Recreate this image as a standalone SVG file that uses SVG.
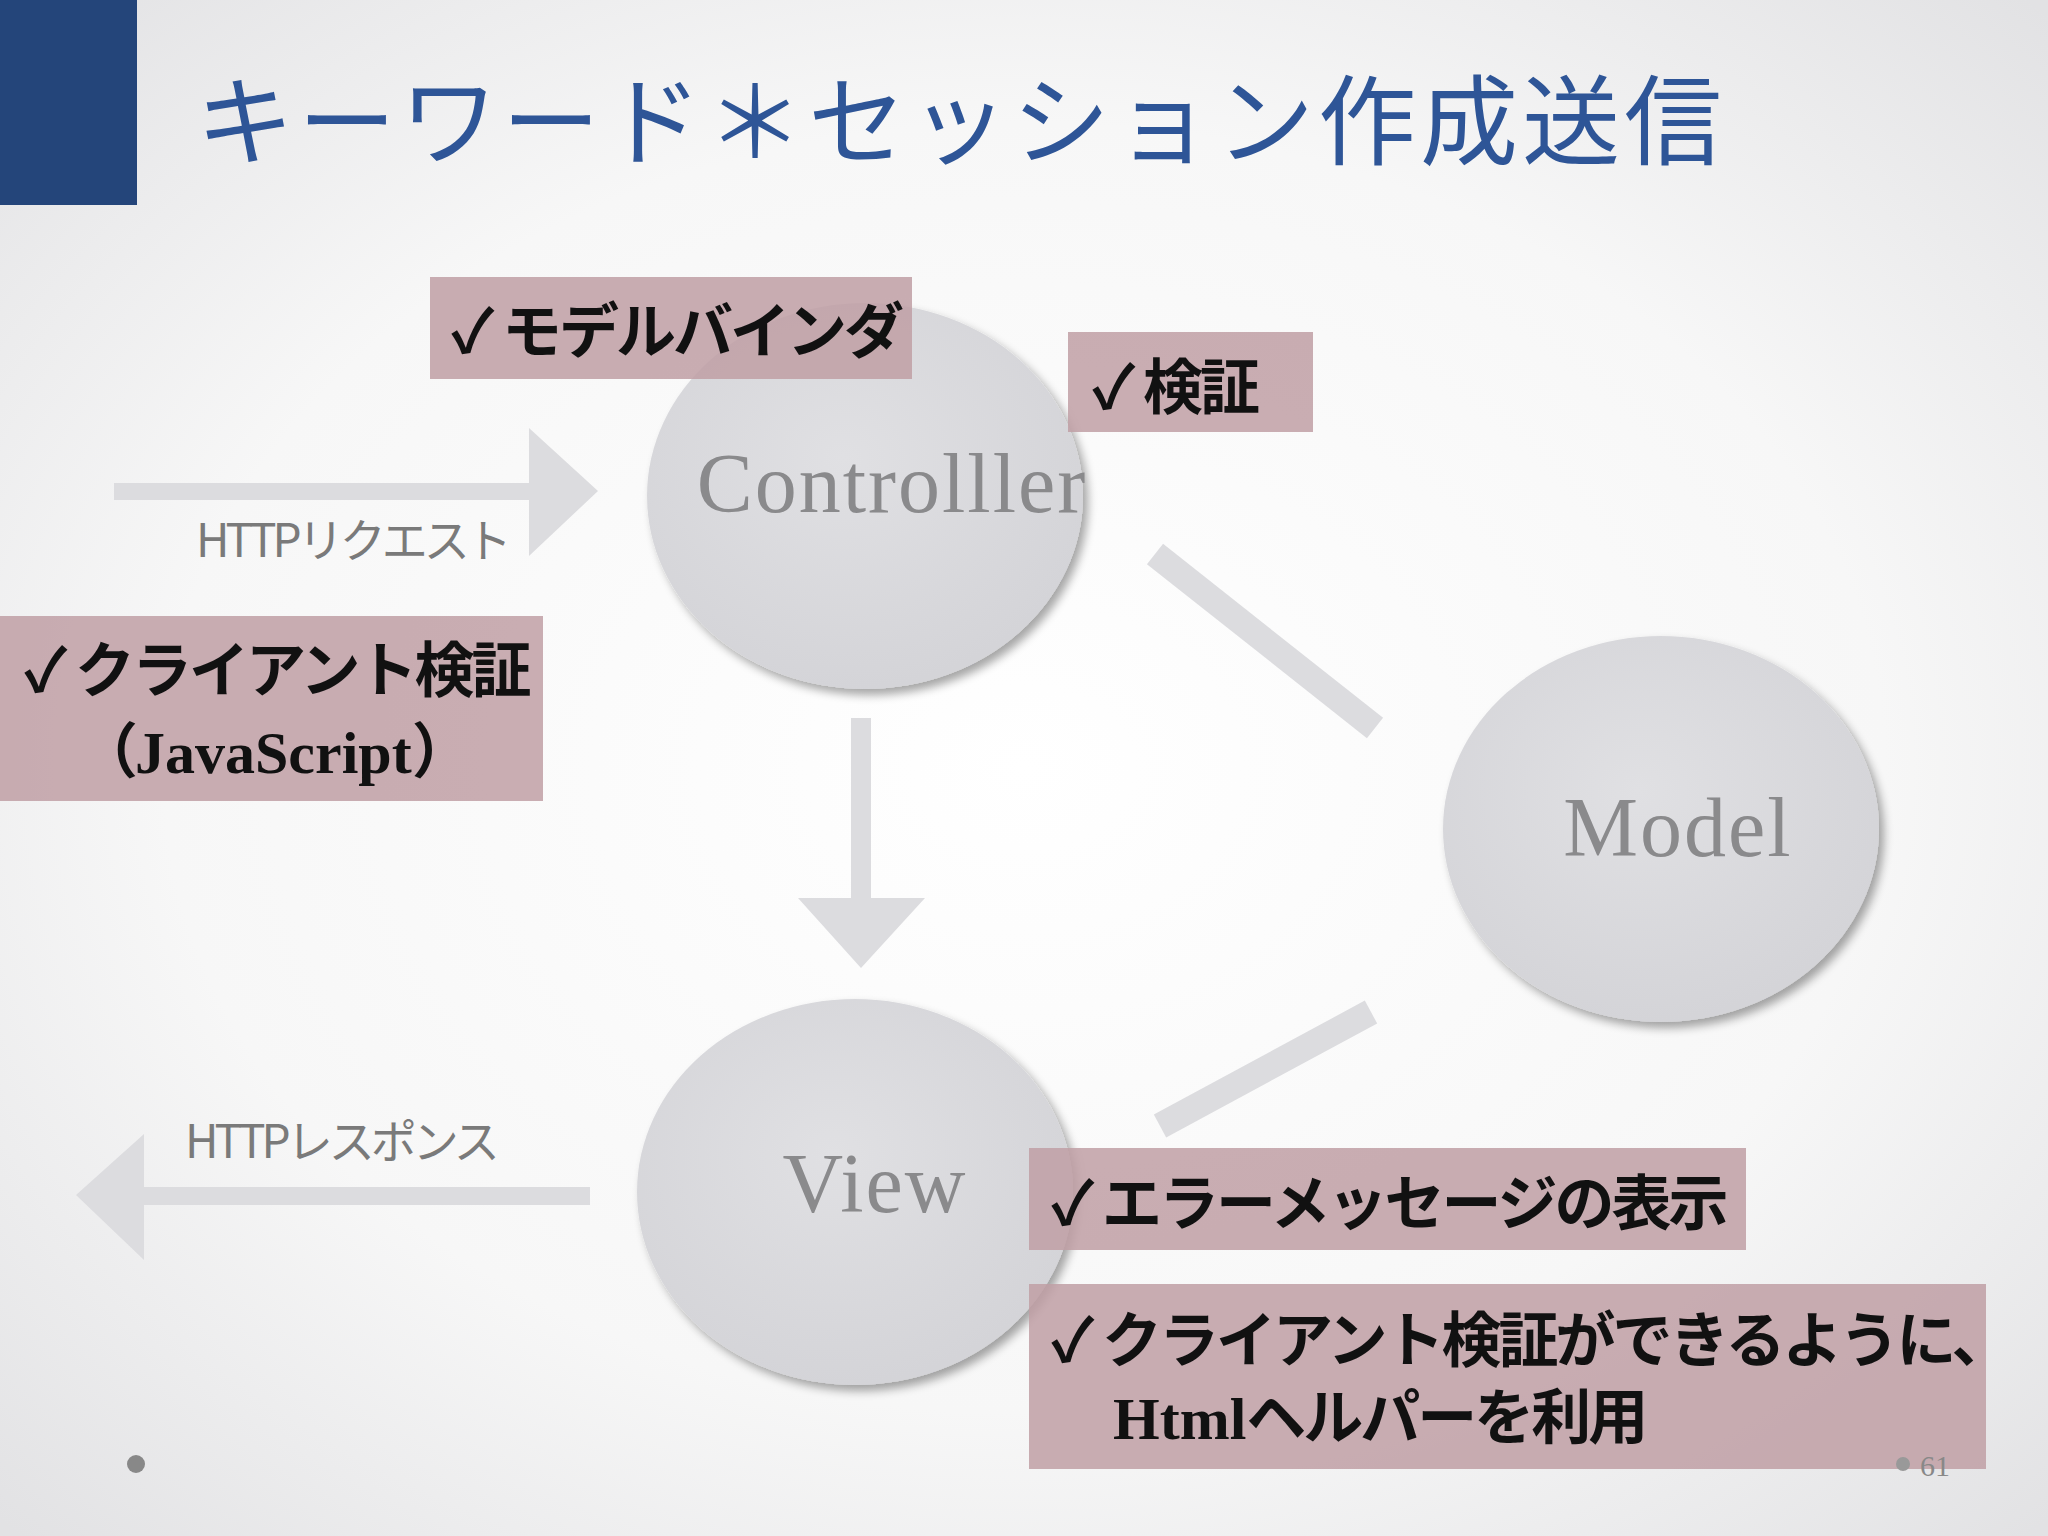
<svg xmlns="http://www.w3.org/2000/svg" width="2048" height="1536" viewBox="0 0 2048 1536">
<defs>
<radialGradient id="bg" cx="50%" cy="50%" r="70%">
<stop offset="0" stop-color="#ffffff"/><stop offset="0.6" stop-color="#f7f7f7"/><stop offset="1" stop-color="#e2e2e4"/>
</radialGradient>
<radialGradient id="ell" cx="45%" cy="40%" r="60%">
<stop offset="0" stop-color="#e0e0e3"/><stop offset="1" stop-color="#d4d4d8"/>
</radialGradient>
<filter id="sh" x="-20%" y="-20%" width="150%" height="150%">
<feGaussianBlur in="SourceAlpha" stdDeviation="5"/><feOffset dx="5" dy="6"/>
<feComponentTransfer><feFuncA type="linear" slope="0.35"/></feComponentTransfer>
<feMerge><feMergeNode/><feMergeNode in="SourceGraphic"/></feMerge>
</filter>
</defs>
<style>
.node{fill:url(#ell);filter:url(#sh)}
.nl{font-family:"Liberation Serif",serif;font-size:84px;fill:#8a8a8c;text-anchor:middle;letter-spacing:2px}
.arr{fill:#dcdcdf}
.lbl{font-family:"Noto Sans CJK JP","Liberation Serif",serif;font-size:46px;fill:#7a7a7a;letter-spacing:-4px}
.box{fill:#bf9fa4;opacity:0.85}
.bt{font-family:"Noto Sans CJK JP",sans-serif;font-size:60px;font-weight:bold;fill:#111;letter-spacing:-3px}
</style>
<rect width="2048" height="1536" fill="url(#bg)"/>
<rect x="0" y="0" width="137" height="205" fill="#24457a"/>
<text x="196" y="157" font-family="Noto Sans CJK JP,sans-serif" font-size="98" fill="#2e5597" letter-spacing="4">キーワード＊セッション作成送信</text>

<g id="connectors">
<polygon class="arr" points="114,483 529,483 529,428 598,491 529,556 529,500 114,500"/>
<polygon class="arr" points="851,718 871,718 871,898 925,898 861,968 798,898 851,898"/>
<polygon class="arr" points="590,1187 144,1187 144,1134 76,1195 144,1260 144,1205 590,1205"/>
<line x1="1155" y1="554" x2="1375" y2="728" stroke="#dcdcdf" stroke-width="26"/>
<line x1="1160" y1="1126" x2="1371" y2="1012" stroke="#dcdcdf" stroke-width="26"/>
</g>
<text class="lbl" x="196" y="557">HTTPリクエスト</text>
<text class="lbl" x="185" y="1158">HTTPレスポンス</text>

<g id="controller"><ellipse class="node" cx="865" cy="496" rx="218" ry="193"/><text class="nl" x="892" y="512">Controlller</text></g>
<g id="model"><ellipse class="node" cx="1661" cy="829" rx="218" ry="193"/><text class="nl" x="1678" y="856">Model</text></g>
<g id="view"><ellipse class="node" cx="855" cy="1192" rx="218" ry="193"/><text class="nl" x="875" y="1212">View</text></g>

<g id="note1"><rect class="box" x="430" y="277" width="482" height="102"/><text class="bt" x="451" y="353">✓ モデルバインダ</text></g>
<g id="note2"><rect class="box" x="1068" y="332" width="245" height="100"/><text class="bt" x="1092" y="409">✓ 検証</text></g>
<g id="note3"><rect class="box" x="0" y="616" width="543" height="185"/><text class="bt" x="24" y="692">✓ クライアント検証</text><text class="bt" x="78" y="773">（<tspan font-family="Liberation Serif,serif" letter-spacing="0">JavaScript</tspan>）</text></g>
<g id="note4"><rect class="box" x="1029" y="1148" width="717" height="102"/><text class="bt" x="1051" y="1225">✓ エラーメッセージの表示</text></g>
<g id="note5"><rect class="box" x="1029" y="1284" width="957" height="185"/><text class="bt" x="1051" y="1362" letter-spacing="-5">✓ クライアント検証ができるように、</text><text class="bt" x="1113" y="1439"><tspan font-family="Liberation Serif,serif" letter-spacing="0">Html</tspan>ヘルパーを利用</text></g>

<circle cx="136" cy="1464" r="9" fill="#888"/>
<circle cx="1903" cy="1464" r="7" fill="#999"/>
<text x="1920" y="1476" font-family="Liberation Serif,serif" font-size="30" fill="#888">61</text>
</svg>
